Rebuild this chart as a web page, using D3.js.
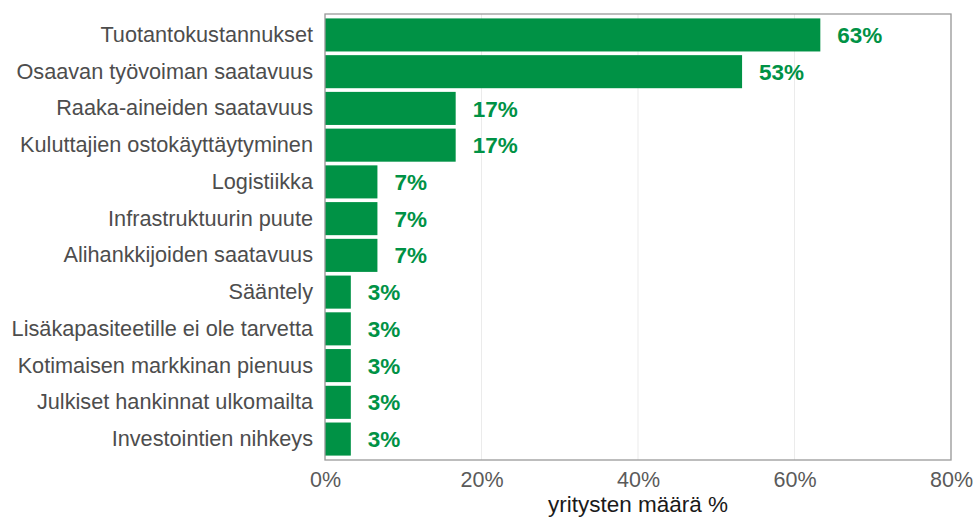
<!DOCTYPE html>
<html><head><meta charset="utf-8">
<script src="https://cdn.jsdelivr.net/npm/d3@7"></script>
<style>body{margin:0;background:#fff}svg{display:block;font-family:"Liberation Sans",Arial,sans-serif}</style>
</head><body><svg id="c" width="978" height="518"></svg>
<script>
const categories = ["Tuotantokustannukset","Osaavan työvoiman saatavuus","Raaka-aineiden saatavuus","Kuluttajien ostokäyttäytyminen","Logistiikka","Infrastruktuurin puute","Alihankkijoiden saatavuus","Sääntely","Lisäkapasiteetille ei ole tarvetta","Kotimaisen markkinan pienuus","Julkiset hankinnat ulkomailta","Investointien nihkeys"];
const values = [63.3,53.3,16.7,16.7,6.7,6.7,6.7,3.3,3.3,3.3,3.3,3.3];
const xTicks = [0,20,40,60,80];
const xTitle = "yritysten määrä %";

const svg = d3.select("#c");
const m = {l:325, r:951, t:14, b:460};
const x = d3.scaleLinear().domain([0,80]).range([m.l,m.r]);
const y = d3.scaleBand().domain(categories).range([m.t,m.b]).paddingInner(0.1).paddingOuter(0.12);
const green = "#009245";

svg.append("g").selectAll("line").data(xTicks).join("line")
  .attr("x1",d=>x(d)).attr("x2",d=>x(d)).attr("y1",m.t).attr("y2",m.b)
  .attr("stroke","#ebebeb").attr("stroke-width",1);

svg.append("g").selectAll("rect").data(values).join("rect")
  .attr("x",x(0)).attr("y",(d,i)=>y(categories[i]))
  .attr("width",d=>x(d)-x(0)).attr("height",y.bandwidth()).attr("fill",green);

svg.append("g").selectAll("text").data(values).join("text")
  .attr("x",d=>x(d)+17).attr("y",(d,i)=>y(categories[i])+y.bandwidth()/2)
  .attr("dy","0.36em").attr("fill",green).attr("font-weight","bold").attr("font-size",22.5)
  .text(d=>Math.round(d)+"%");

svg.append("rect").attr("x",m.l).attr("y",m.t).attr("width",m.r-m.l).attr("height",m.b-m.t)
  .attr("fill","none").attr("stroke","#9a9a9a").attr("stroke-width",1.3);

const ya = svg.append("g").attr("transform",`translate(${m.l},0)`)
  .call(d3.axisLeft(y).tickSize(0).tickPadding(12));
ya.select(".domain").remove();
ya.selectAll("text").attr("font-size",21.7).attr("fill","#4d4d4d").attr("font-family","Liberation Sans, Arial, sans-serif");

const xa = svg.append("g").attr("transform",`translate(0,${m.b})`)
  .call(d3.axisBottom(x).tickValues(xTicks).tickFormat(d=>d+"%").tickSize(0).tickPadding(12));
xa.select(".domain").remove();
xa.selectAll("text").attr("font-size",21.5).attr("fill","#5a5a5a").attr("font-family","Liberation Sans, Arial, sans-serif");

svg.append("text").attr("x",(m.l+m.r)/2).attr("y",512).attr("text-anchor","middle")
  .attr("font-size",22.5).attr("fill","#1a1a1a").text(xTitle);
</script></body></html>
